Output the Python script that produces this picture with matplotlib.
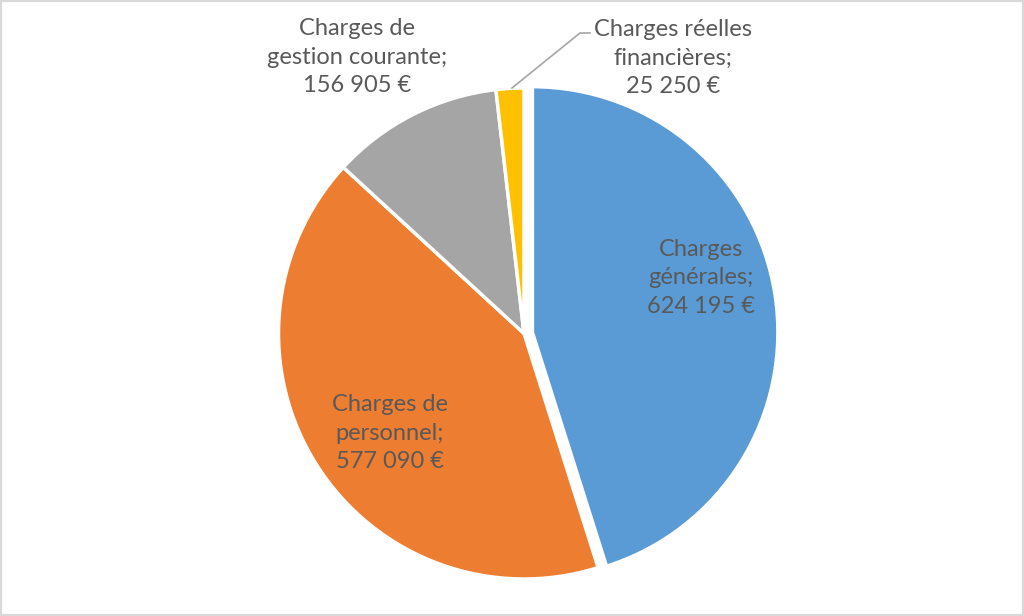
import matplotlib
matplotlib.use("Agg")
import matplotlib.pyplot as plt
from matplotlib.patches import Rectangle

categories = ["Charges générales", "Charges de personnel",
              "Charges de gestion courante", "Charges réelles financières"]
values = [624195, 577090, 156905, 25250]
label_texts = ["Charges\ngénérales;\n624 195 €",
               "Charges de\npersonnel;\n577 090 €",
               "Charges de\ngestion courante;\n156 905 €",
               "Charges réelles\nfinancières;\n25 250 €"]
colors = ["#5B9BD5", "#ED7D31", "#A5A5A5", "#FFC000"]

W, H = 1024, 616
fig = plt.figure(figsize=(W / 100, H / 100), dpi=100)
ax = fig.add_axes([0, 0, 1, 1])
ax.set_xlim(0, W)
ax.set_ylim(0, H)
ax.set_aspect("equal")
ax.axis("off")

cx, cy, r = 524, H - 333.5, 245.5
ax.pie(values, colors=colors, startangle=90, counterclock=False,
       center=(cx, cy), radius=r, explode=[8.5, 0, 0, 0],
       wedgeprops=dict(edgecolor="white", linewidth=2.5), frame=False)
ax.set_xlim(0, W)
ax.set_ylim(0, H)

txt = dict(fontsize=17, color="#595959", family="Lato", ha="center",
           va="center", linespacing=1.47)
ax.text(701, H - 278, label_texts[0], **txt)
ax.text(390, H - 433, label_texts[1], **txt)
ax.text(357, H - 57, label_texts[2], **txt)
ax.text(673, H - 58, label_texts[3], **txt)

# leader line for the small slice
ax.plot([512, 580, 590], [H - 88, H - 33, H - 33], color="#A6A6A6", lw=1.2)

fig.patches.append(Rectangle((0, 0), 1, 1, transform=fig.transFigure,
                             fill=False, edgecolor="#D9D9D9", linewidth=3))
fig.savefig("out.png", dpi=100, facecolor="white")
